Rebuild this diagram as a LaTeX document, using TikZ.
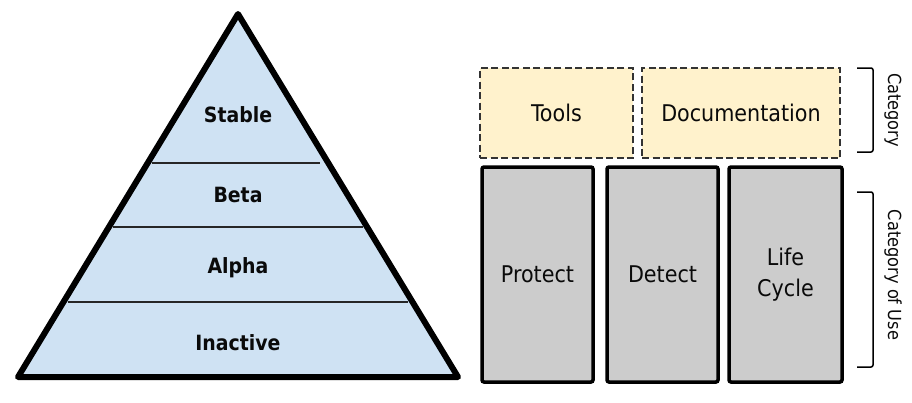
\documentclass[tikz,border=0pt]{standalone}
\usepackage{fontspec}
\setmainfont{DejaVu Sans Condensed}
\definecolor{pyrblue}{HTML}{CFE2F3}
\definecolor{catyellow}{HTML}{FFF2CC}
\definecolor{usegray}{HTML}{CCCCCC}
\definecolor{txt}{HTML}{0A0A0A}
\begin{document}
\begin{tikzpicture}[x=1pt,y=-1pt,
  levellabel/.style={text=txt,font=\fontsize{21}{25}\selectfont\bfseries},
  levelline/.style={line width=1.4pt,draw=black!85},
  catbox/.style={draw=black!80,fill=catyellow,line width=1.6pt,dash pattern=on 7pt off 3.5pt,minimum height=90pt,inner sep=0pt,text=txt,font=\fontsize{23}{27}\selectfont},
  usebox/.style={draw=black,fill=usegray,line width=3.5pt,rounded corners=2pt,minimum height=215pt,inner sep=0pt,text=txt,align=center,font=\fontsize{23}{31}\selectfont},
  brace/.style={draw=black,line width=1.5pt,rounded corners=2pt},
  sidelabel/.style={rotate=-90,text=txt,font=\fontsize{18}{22}\selectfont}]
\useasboundingbox (0,0) rectangle (912,402);
% pyramid
\coordinate (apex) at (238,14);
\coordinate (bl) at (18,377);
\coordinate (br) at (458,377);
\fill[pyrblue] (apex) -- (br) -- (bl) -- cycle;
\coordinate (l1a) at (152,163); \coordinate (l1b) at (320,163);
\coordinate (l2a) at (113,227); \coordinate (l2b) at (363,227);
\coordinate (l3a) at (68,302);  \coordinate (l3b) at (408,302);
\draw[levelline] (l1a) -- (l1b);
\draw[levelline] (l2a) -- (l2b);
\draw[levelline] (l3a) -- (l3b);
\draw[line width=6pt,line join=round] (apex) -- (br) -- (bl) -- cycle;
\node[levellabel] (stable) at (238,115) {Stable};
\node[levellabel] (beta) at (238,195) {Beta};
\node[levellabel] (alpha) at (238,268) {Alpha};
\node[levellabel] (inactive) at (238,343) {Inactive};
% category boxes
\node[catbox,minimum width=153pt] (tools) at (556.5,113) {Tools};
\node[catbox,minimum width=198pt] (doc) at (741,113) {Documentation};
% category of use boxes
\node[usebox,minimum width=111pt] (protect) at (537.5,274.5) {Protect};
\node[usebox,minimum width=111pt] (detect) at (662.5,274.5) {Detect};
\node[usebox,minimum width=113pt] (life) at (785.5,274.5) {Life\\Cycle};
% brackets
\coordinate (c1) at (857,68); \coordinate (c2) at (873,68);
\coordinate (c3) at (873,152); \coordinate (c4) at (857,152);
\draw[brace] (c1) -- (c2) -- (c3) -- (c4);
\coordinate (u1) at (857,192); \coordinate (u2) at (873,192);
\coordinate (u3) at (873,367); \coordinate (u4) at (857,367);
\draw[brace] (u1) -- (u2) -- (u3) -- (u4);
\node[sidelabel] (cat) at (893,110) {Category};
\node[sidelabel] (catuse) at (893,275) {Category of Use};
\end{tikzpicture}
\end{document}
